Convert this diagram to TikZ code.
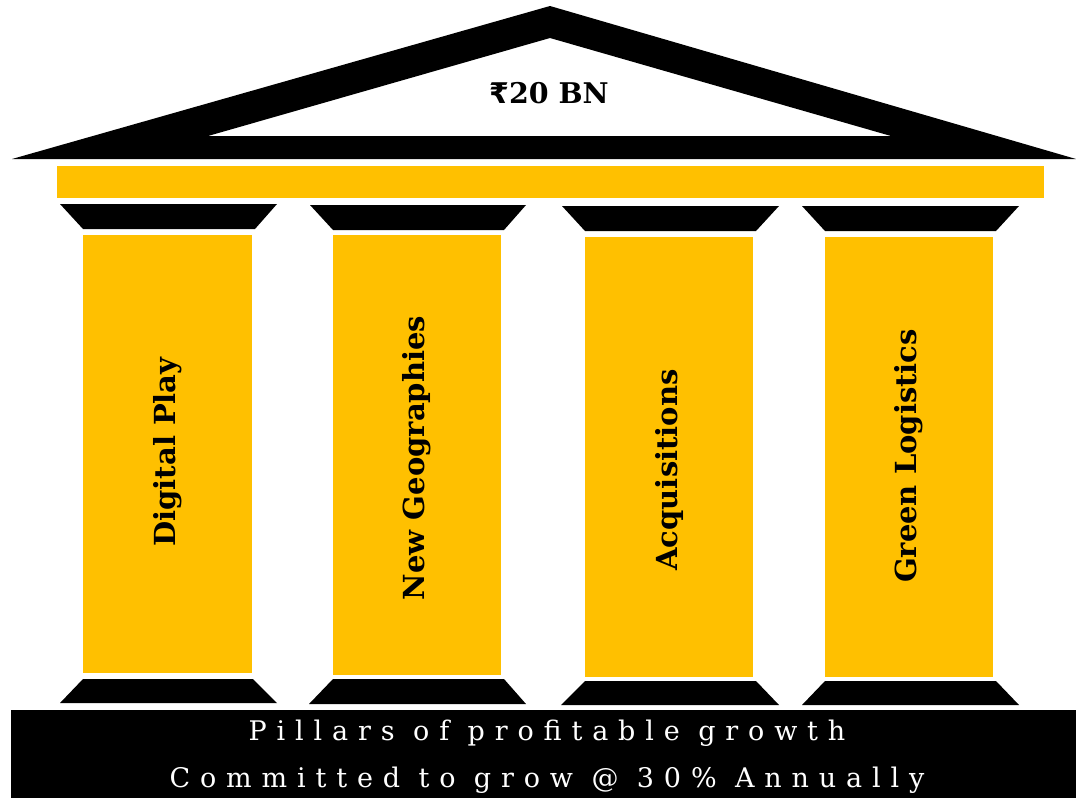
\documentclass[tikz,border=0pt]{standalone}
\usepackage{fontspec}
\setmainfont{DejaVu Serif}
\newfontfamily\rupeefont{DejaVu Sans}
\usepackage{tikz}
\usetikzlibrary{positioning}
\definecolor{gold}{HTML}{FFC000}

\begin{document}
\begin{tikzpicture}[x=1pt,y=-1pt,
	shaftbox/.style={fill=gold},
	capital/.style={fill=black},
	pillarname/.style={rotate=90,inner sep=0pt,font=\bfseries\fontsize{29}{32}\selectfont},
	motto/.style={text=white,inner sep=0pt,font=\fontsize{27}{30}\selectfont\addfontfeature{LetterSpace=36.5}}]
	\useasboundingbox (0,0) rectangle (1076,798);

	% roof
	\fill[even odd rule] (550,6) -- (12,159) -- (1076,159) -- cycle
		(550,38) -- (208,136) -- (891,136) -- cycle;
	\fill[gold] (57,166) rectangle (1044,198);

	% pillars
	\fill[capital] (60,204) -- (277,204) -- (255,229) -- (83,229) -- cycle;
	\fill[shaftbox] (83,235) rectangle (252,673);
	\fill[capital] (83,679) -- (253,679) -- (277,703) -- (60,703) -- cycle;

	\fill[capital] (310,205) -- (526,205) -- (504,230) -- (333,230) -- cycle;
	\fill[shaftbox] (333,235) rectangle (501,675);
	\fill[capital] (333,679) -- (504,679) -- (526,704) -- (309,704) -- cycle;

	\fill[capital] (562,206) -- (779,206) -- (756,231) -- (585,231) -- cycle;
	\fill[shaftbox] (585,237) rectangle (753,677);
	\fill[capital] (585,681) -- (756,681) -- (779,705) -- (561,705) -- cycle;

	\fill[capital] (802,206) -- (1019,206) -- (996,231) -- (825,231) -- cycle;
	\fill[shaftbox] (825,237) rectangle (993,677);
	\fill[capital] (825,681) -- (996,681) -- (1019,705) -- (802,705) -- cycle;

	% footing
	\fill (11,710) rectangle (1076,798);

	\node[font=\bfseries\fontsize{28.5}{32}\selectfont] (fund) at (549,93) {{\rupeefont ₹}20 BN};

	\node[pillarname] (digital) at (168,452) {Digital Play};
	\node[pillarname] (geo) at (417,458) {New Geographies};
	\node[pillarname] (acq) at (669,470) {Acquisitions};
	\node[pillarname] (green) at (909,456) {Green Logistics};

	\node[motto] (pillars) at (547,733) {Pillars of profitable growth};
	\node[motto] (commit) at (547,780) {Committed to grow @ 30\% Annually};
\end{tikzpicture}
\end{document}
